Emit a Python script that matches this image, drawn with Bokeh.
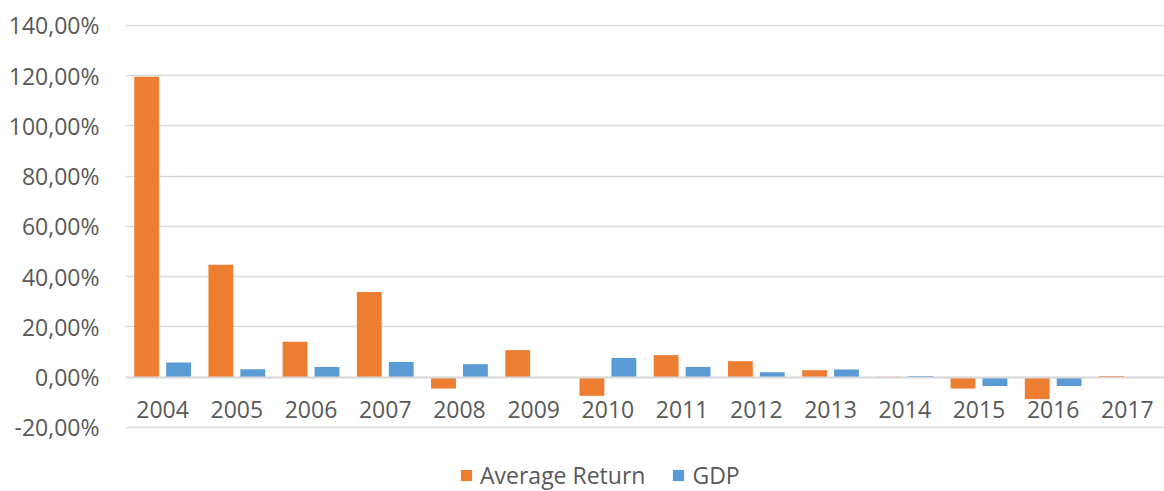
from bokeh.plotting import figure
from bokeh.models import ColumnDataSource, FactorRange, Range1d, CustomJSTickFormatter, Legend, LegendItem
from bokeh.transform import dodge
from bokeh.embed import file_html
from bokeh.resources import INLINE

years = ['2004', '2005', '2006', '2007', '2008', '2009', '2010',
         '2011', '2012', '2013', '2014', '2015', '2016', '2017']
avg_return = [119.5, 44.7, 14.0, 33.8, -4.6, 10.7, -7.5, 8.7, 6.3, 2.7, 0.1, -4.6, -8.8, 0.4]
gdp = [5.8, 3.1, 4.0, 6.0, 5.1, 0.0, 7.6, 4.0, 1.9, 3.0, 0.4, -3.6, -3.6, 0.0]
y_ticks = [-20, 0, 20, 40, 60, 80, 100, 120, 140]

src = ColumnDataSource(dict(years=years, avg=avg_return, gdp=gdp))

FONT = "Open Sans"
GRAY = "#595959"

p = figure(width=1164, height=491, output_backend="svg", toolbar_location=None,
           x_range=FactorRange(*years, range_padding=0), y_range=Range1d(-45.57, 140.3),
           min_border_left=125, min_border_right=0, min_border_top=24, min_border_bottom=0)
p.outline_line_color = None

r1 = p.vbar(x=dodge('years', -0.215, range=p.x_range), top='avg', width=0.335, source=src,
            fill_color="#ED7D31", line_color=None)
r2 = p.vbar(x=dodge('years', 0.215, range=p.x_range), top='gdp', width=0.335, source=src,
            fill_color="#5B9BD5", line_color=None)

p.yaxis.ticker = y_ticks
p.yaxis.formatter = CustomJSTickFormatter(code="return tick.toFixed(2).replace('.', ',') + '%';")
p.yaxis.axis_line_color = None
p.yaxis.major_tick_line_color = None
p.yaxis.minor_tick_line_color = None
p.yaxis.major_label_text_font = FONT
p.yaxis.major_label_text_font_size = "23px"
p.yaxis.major_label_text_color = GRAY
p.yaxis.major_label_standoff = 20

p.xaxis.fixed_location = 0
p.xaxis.axis_line_color = "#d9d9d9"
p.xaxis.axis_line_width = 2
p.xaxis.major_tick_line_color = None
p.xaxis.minor_tick_line_color = None
p.xaxis.major_label_text_font = FONT
p.xaxis.major_label_text_font_size = "23px"
p.xaxis.major_label_text_color = GRAY
p.xaxis.major_label_standoff = 18

p.xgrid.grid_line_color = None
p.ygrid.grid_line_color = "#d9d9d9"
p.ygrid.grid_line_width = 1.5

legend = Legend(items=[LegendItem(label="Average Return", renderers=[r1]),
                       LegendItem(label="GDP", renderers=[r2])],
                orientation="horizontal", location=(334, 0),
                label_text_font=FONT, label_text_font_size="23px", label_text_color=GRAY,
                glyph_width=14, glyph_height=14, label_standoff=7, spacing=26,
                padding=0, margin=0, border_line_color=None, background_fill_alpha=0)
p.add_layout(legend, "center")

open("out.html", "w").write(file_html(p, INLINE))
